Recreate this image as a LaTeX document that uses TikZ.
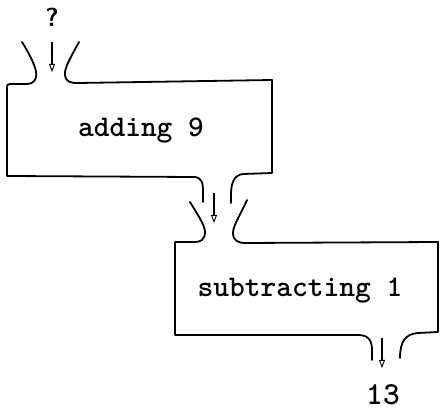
\documentclass[tikz,border=0pt]{standalone}
\usetikzlibrary{arrows.meta}
\begin{document}
\begin{tikzpicture}[x=1pt,y=-1pt,
  outline/.style={line width=1.8pt,line cap=round,line join=round},
  flow/.style={line width=1.2pt,-{Triangle[open,width=6pt,length=8pt,line width=0.9pt]}},
  label/.style={anchor=base,inner sep=0pt,font=\ttfamily\bfseries\fontsize{30}{36}\selectfont},
  qmark/.style={anchor=base,inner sep=0pt,font=\sffamily\bfseries\fontsize{26}{30}\selectfont}]
\useasboundingbox (0,0) rectangle (440,414);
% box 1
\draw[outline] (22,42) .. controls (30,55) and (38,70) .. (36,77)
  .. controls (34,84) and (30,84) .. (24,84) -- (10,84)
  .. controls (7,84) and (7,85) .. (7,88) -- (7,176) -- (195,177)
  .. controls (202,178) and (203,183) .. (203,192) -- (203,202);
\draw[outline] (79,42) .. controls (72,55) and (64,68) .. (65,75)
  .. controls (66,82) and (70,83) .. (78,83) -- (272,80) -- (272,173)
  -- (243,174) .. controls (234,175) and (231,183) .. (231,195) -- (231,203);
% box 2
\draw[outline] (190,202) .. controls (196,212) and (205,225) .. (205,232)
  .. controls (205,240) and (200,242) .. (195,242) -- (175,242)
  -- (175,335) -- (358,335) .. controls (368,335) and (372,340) .. (372,350) -- (372,360);
\draw[outline] (247,200) .. controls (242,212) and (233,225) .. (233,233)
  .. controls (233,240) and (237,243) .. (246,243) -- (438,242) -- (438,332)
  -- (418,333) .. controls (405,334) and (400,342) .. (400,358);
% texts
\node[qmark] (q) at (52,27) {?};
\node[label] (add) at (141,137) {adding 9};
\node[label] (sub) at (300,297) {subtracting 1};
\node[label,font=\ttfamily\bfseries\fontsize{32}{38}\selectfont] (res) at (383,405) {13};
% arrows
\coordinate (a1s) at (52,42); \coordinate (a1e) at (52,72);
\coordinate (a2s) at (214,193); \coordinate (a2e) at (214,223);
\coordinate (a3s) at (382,338); \coordinate (a3e) at (382,368);
\draw[flow] (a1s) -- (a1e);
\draw[flow] (a2s) -- (a2e);
\draw[flow] (a3s) -- (a3e);
\end{tikzpicture}
\end{document}
